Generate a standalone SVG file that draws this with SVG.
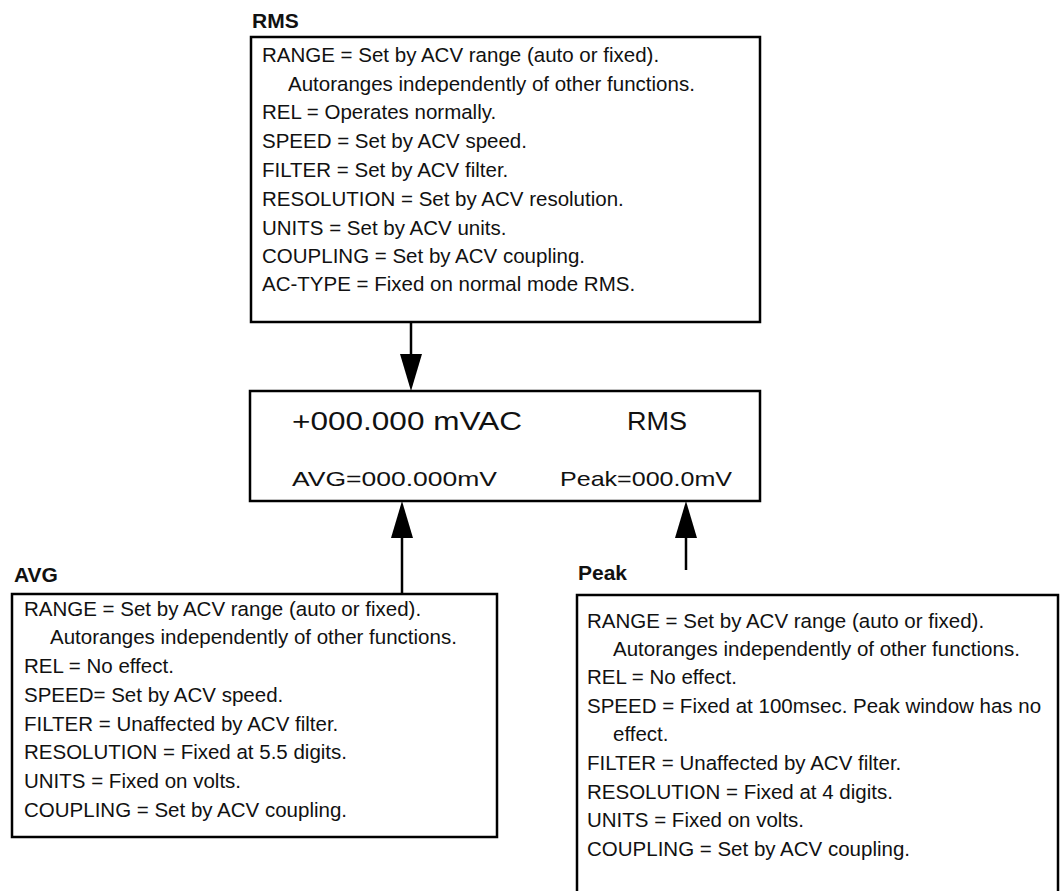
<svg xmlns="http://www.w3.org/2000/svg" width="1060" height="891" viewBox="0 0 1060 891">
<defs>
<style>
.box{fill:#fff;stroke:#000;stroke-width:2.5}
.t{font-family:"Liberation Sans",Arial,sans-serif;font-size:20.5px;fill:#111}
.h{font-family:"Liberation Sans",Arial,sans-serif;font-size:21px;font-weight:bold;fill:#111}
.d1{font-family:"Liberation Sans",Arial,sans-serif;font-size:25px;fill:#111}
.d2{font-family:"Liberation Sans",Arial,sans-serif;font-size:21px;fill:#111}
.ln{stroke:#000;stroke-width:2.5;fill:none}
</style>
</defs>
<rect width="1060" height="891" fill="#fff"/>
<g id="connectors">
<line class="ln" x1="411" y1="322" x2="411" y2="356"/>
<polygon points="400,354 422,354 411,391" fill="#000"/>
<line class="ln" x1="402" y1="594" x2="402" y2="536"/>
<polygon points="391,538 413,538 402,501" fill="#000"/>
<line class="ln" x1="686" y1="570" x2="686" y2="536"/>
<polygon points="675,538 697,538 686,501" fill="#000"/>
</g>
<g id="rms">
<text class="h" x="252" y="28">RMS</text>
<rect class="box" x="251" y="37" width="509" height="285"/>
<text class="t" x="262" y="62">RANGE = Set by ACV range (auto or fixed).</text>
<text class="t" x="288" y="91">Autoranges independently of other functions.</text>
<text class="t" x="262" y="119">REL = Operates normally.</text>
<text class="t" x="262" y="148">SPEED = Set by ACV speed.</text>
<text class="t" x="262" y="177">FILTER = Set by ACV filter.</text>
<text class="t" x="262" y="206">RESOLUTION = Set by ACV resolution.</text>
<text class="t" x="262" y="235">UNITS = Set by ACV units.</text>
<text class="t" x="262" y="263">COUPLING = Set by ACV coupling.</text>
<text class="t" x="262" y="291">AC-TYPE = Fixed on normal mode RMS.</text>
</g>
<g id="display">
<rect class="box" x="250" y="391" width="510" height="110"/>
<text class="d1" x="292" y="430" textLength="230" lengthAdjust="spacingAndGlyphs">+000.000 mVAC</text>
<text class="d1" x="627" y="430" textLength="60" lengthAdjust="spacingAndGlyphs">RMS</text>
<text class="d2" x="292" y="486" textLength="205" lengthAdjust="spacingAndGlyphs">AVG=000.000mV</text>
<text class="d2" x="560" y="486" textLength="172" lengthAdjust="spacingAndGlyphs">Peak=000.0mV</text>
</g>
<g id="avg">
<text class="h" x="14" y="582">AVG</text>
<rect class="box" x="12" y="594" width="485" height="243"/>
<text class="t" x="24" y="616">RANGE = Set by ACV range (auto or fixed).</text>
<text class="t" x="50" y="644">Autoranges independently of other functions.</text>
<text class="t" x="24" y="673">REL = No effect.</text>
<text class="t" x="24" y="702">SPEED= Set by ACV speed.</text>
<text class="t" x="24" y="731">FILTER = Unaffected by ACV filter.</text>
<text class="t" x="24" y="759">RESOLUTION = Fixed at 5.5 digits.</text>
<text class="t" x="24" y="788">UNITS = Fixed on volts.</text>
<text class="t" x="24" y="817">COUPLING = Set by ACV coupling.</text>
</g>
<g id="peak">
<text class="h" x="578" y="580">Peak</text>
<rect class="box" x="577" y="595" width="481" height="310"/>
<text class="t" x="587" y="628">RANGE = Set by ACV range (auto or fixed).</text>
<text class="t" x="613" y="656">Autoranges independently of other functions.</text>
<text class="t" x="587" y="684">REL = No effect.</text>
<text class="t" x="587" y="713">SPEED = Fixed at 100msec. Peak window has no</text>
<text class="t" x="613" y="741">effect.</text>
<text class="t" x="587" y="770">FILTER = Unaffected by ACV filter.</text>
<text class="t" x="587" y="799">RESOLUTION = Fixed at 4 digits.</text>
<text class="t" x="587" y="827">UNITS = Fixed on volts.</text>
<text class="t" x="587" y="856">COUPLING = Set by ACV coupling.</text>
</g>
</svg>
